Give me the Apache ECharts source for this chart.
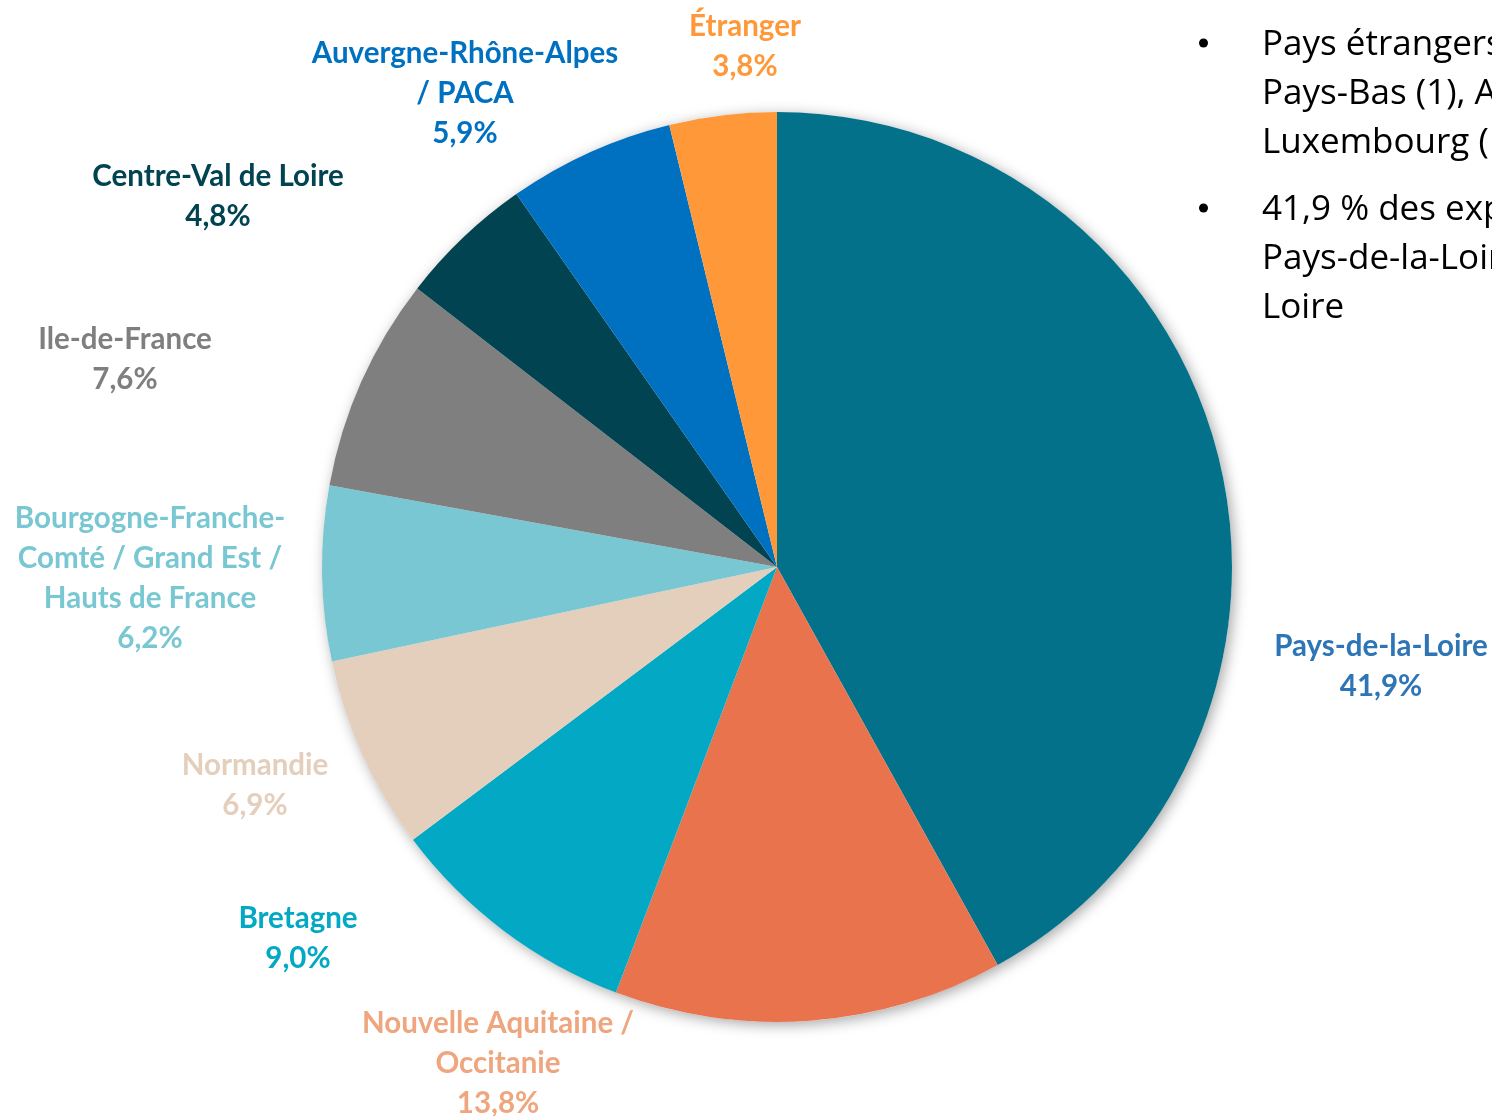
<!DOCTYPE html>
<html>
<head>
<meta charset="utf-8">
<script src="https://cdn.jsdelivr.net/npm/echarts@6/dist/echarts.min.js"></script>
<style>
  html, body { margin: 0; padding: 0; background: #fff; }
  #chart { width: 1492px; height: 1116px; }
</style>
</head>
<body>
<div id="chart"></div>
<script>
// données du graphique (sens horaire depuis midi)
const regions = [
  'Pays-de-la-Loire',
  'Nouvelle Aquitaine /\nOccitanie',
  'Bretagne',
  'Normandie',
  'Bourgogne-Franche-\nComté / Grand Est /\nHauts de France',
  'Ile-de-France',
  'Centre-Val de Loire',
  'Auvergne-Rhône-Alpes\n/ PACA',
  'Étranger'
];
const parts = [41.9, 13.8, 9.0, 6.9, 6.2, 7.6, 4.8, 5.9, 3.8];
const sliceColors = ['#03718A', '#E8734C', '#02A8C4', '#E4CEBC', '#78C7D2', '#7F7F7F', '#014351', '#0070C0', '#FF9838'];
const labelColors = ['#2E75B6', '#EFA57E', '#02A8C4', '#E4CEBC', '#78C7D2', '#7F7F7F', '#014351', '#0070C0', '#FF9838'];
const notes = [
  'Pays étrangers : Belgique (2),\nPays-Bas (1), Allemagne (1),\nLuxembourg (1)',
  '41,9 % des exploitations en\nPays-de-la-Loire, dont Maine-et-\nLoire'
];

// position des étiquettes (centre du bloc)
const labelPos = [
  [1381, 666], [498, 1063], [298, 938], [255, 785], [150, 578],
  [125, 359], [218, 196], [465, 93], [745, 46]
];

const myChart = echarts.init(document.getElementById('chart'));

const option = {
  animation: false,
  backgroundColor: '#fff',
  textStyle: { fontFamily: 'Lato' },
  graphic: [
    {
      type: 'group',
      left: 1199,
      top: 21,
      children: [
        { type: 'circle', shape: { cx: 4.5, cy: 22, r: 4.5 }, style: { fill: '#000' } },
        { type: 'text', x: 63, y: 0, style: { text: notes[0], font: '35px "Open Sans"', fill: '#000', lineHeight: 49 } },
        { type: 'circle', shape: { cx: 4.5, cy: 187, r: 4.5 }, style: { fill: '#000' } },
        { type: 'text', x: 63, y: 165, style: { text: notes[1], font: '35px "Open Sans"', fill: '#000', lineHeight: 49 } }
      ]
    }
  ],
  series: [
    {
      // ombre du disque
      type: 'pie',
      silent: true,
      center: [777, 567],
      radius: 455,
      label: { show: false },
      labelLine: { show: false },
      data: [{ value: 1, itemStyle: { color: '#fff', shadowBlur: 14, shadowColor: 'rgba(0,0,0,0.35)', shadowOffsetX: 3, shadowOffsetY: 3 } }],
      z: 1
    },
    {
      type: 'pie',
      center: [777, 567],
      radius: 455,
      startAngle: 90,
      clockwise: true,
      z: 2,
      labelLine: { show: false },
      label: {
        show: true,
        position: 'outside',
        overflow: 'none',
        fontFamily: 'Lato',
        fontWeight: 'bold',
        fontSize: 29.5,
        lineHeight: 40,
        align: 'center',
        formatter: function (p) {
          return p.name + '\n' + p.value.toFixed(1).replace('.', ',') + '%';
        }
      },
      labelLayout: function (params) {
        const pos = labelPos[params.dataIndex];
        return { x: pos[0], y: pos[1], align: 'center', verticalAlign: 'middle', hideOverlap: false };
      },
      data: regions.map(function (name, i) {
        return {
          name: name,
          value: parts[i],
          itemStyle: { color: sliceColors[i] },
          label: { color: labelColors[i] }
        };
      })
    }
  ]
};

myChart.setOption(option);
</script>
</body>
</html>
